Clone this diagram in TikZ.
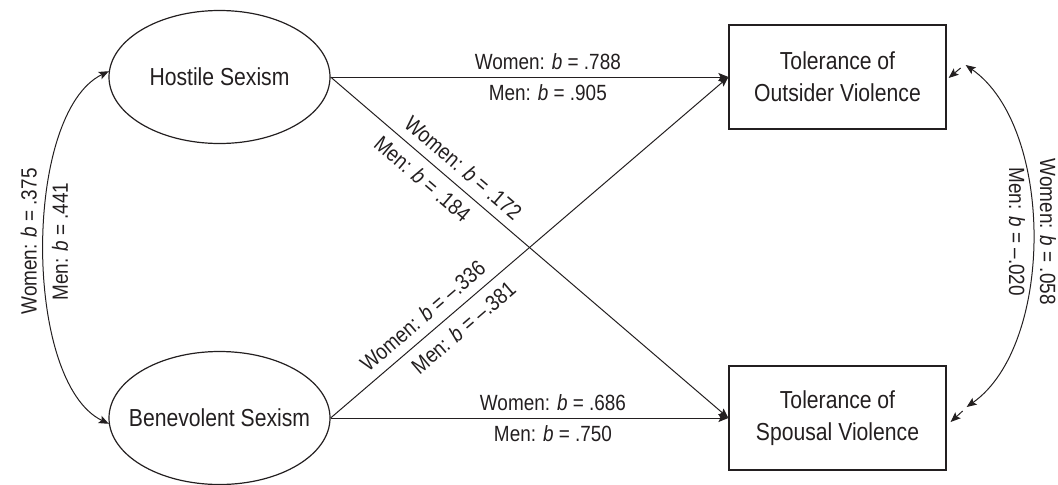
\documentclass[tikz,border=0pt]{standalone}
\usepackage{fontspec}
\setmainfont{Liberation Sans}[FakeStretch=0.86]
\usetikzlibrary{arrows.meta,shapes.geometric}
\definecolor{ink}{HTML}{231F20}

\begin{document}
\begin{tikzpicture}[x=0.5pt,y=0.5pt,
  every node/.style={text=ink},
  latent/.style={ellipse, draw=ink, line width=0.6pt, minimum width=110.5pt,
    minimum height=66.5pt, inner sep=-14pt, font=\fontsize{12.3}{16}\selectfont},
  observed/.style={rectangle, draw=ink, line width=0.6pt, minimum width=108.5pt,
    minimum height=52pt, inner sep=0pt, align=center, font=\fontsize{12.3}{16}\selectfont},
  tip/.tip={Stealth[length=5pt,width=4pt,inset=1pt]},
  effect/.style={draw=ink, line width=0.5pt, -tip},
  covar/.style={draw=ink, line width=0.5pt, tip-tip},
  lab/.style={font=\fontsize{11}{13}\selectfont, inner sep=3.5pt},
  slab/.style={lab, sloped, inner sep=4.5pt}
]
\useasboundingbox (0,0) rectangle (1058,484);

% latent factors and outcomes
\node[latent]   (hs) at (219.5,407) {Hostile Sexism};
\node[latent]   (bs) at (219.5,66)  {Benevolent Sexism};
\node[observed] (ot) at (837.5,407) {Tolerance of\\Outsider Violence};
\node[observed] (sv) at (837.5,66)  {Tolerance of\\Spousal Violence};

% structural paths
\draw[effect] (hs.east) --
  node[lab, above, pos=0.546] {Women: \textit{b} = .788}
  node[lab, below, pos=0.546] {Men: \textit{b} = .905} (ot.west);
\draw[effect] (bs.east) --
  node[lab, above, pos=0.559] {Women: \textit{b} = .686}
  node[lab, below, pos=0.559] {Men: \textit{b} = .750} (sv.west);
\draw[effect] (hs.east) --
  node[slab, above, pos=0.305] {Women: \textit{b} = .172}
  node[slab, below, pos=0.26] {Men: \textit{b} = .184} (sv.west);
\draw[effect] (bs.east) --
  node[slab, above, pos=0.26] {Women: \textit{b} = –.336}
  node[slab, below, pos=0.305] {Men: \textit{b} = –.381} (ot.west);

% covariance between the two sexism factors
\draw[covar] (hs.177) .. controls +(-86,-42) and +(-86,42) ..
  node[lab, rotate=90, anchor=south, pos=0.487] {Women: \textit{b} = .375}
  node[lab, rotate=90, anchor=north, pos=0.487] {Men: \textit{b} = .441} (bs.183);

% residual covariance between the two outcomes
\coordinate (cOT) at ([shift={(19,12)}]ot.east);
\coordinate (cSV) at ([shift={(20,11)}]sv.east);
\draw[covar] (cOT) .. controls +(89,-62) and +(88,62) ..
  node[lab, rotate=-90, anchor=south, pos=0.49] {Women: \textit{b} = .058}
  node[lab, rotate=-90, anchor=north, pos=0.49] {Men: \textit{b} = –.020} (cSV);

% residual terms
\coordinate (dOT) at ([shift={(14,9)}]ot.east);
\coordinate (dSV) at ([shift={(16,7)}]sv.east);
\draw[effect] (dOT) -- ([shift={(2,-1)}]ot.east);
\draw[effect] (dSV) -- ([shift={(4,-4)}]sv.east);
\end{tikzpicture}
\end{document}
